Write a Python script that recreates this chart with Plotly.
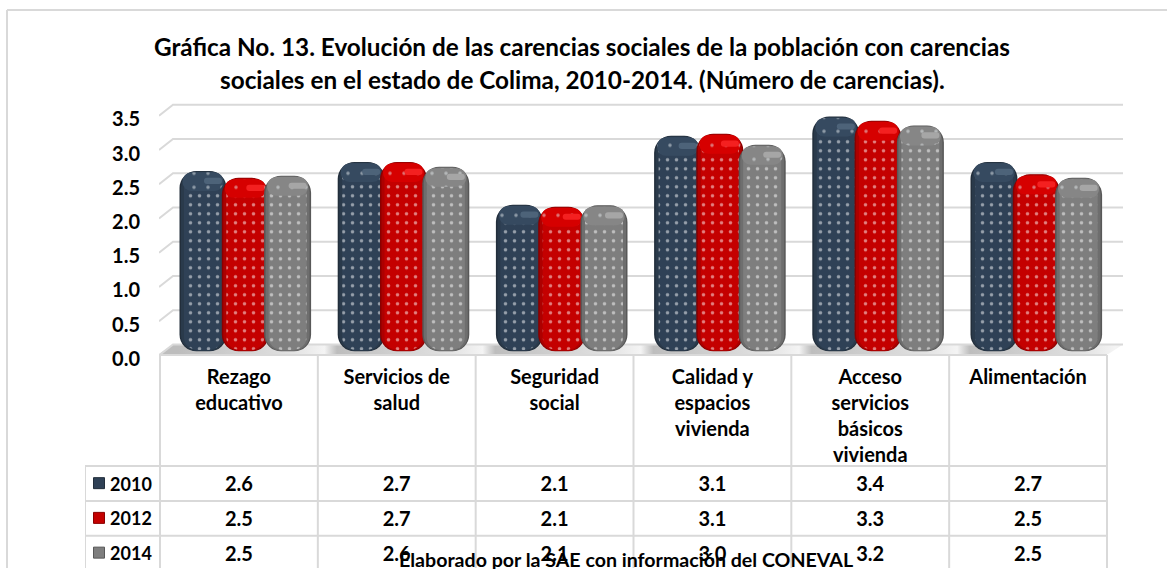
import plotly.graph_objects as go

# ---------- data ----------
categories = ["Rezago<br>educativo", "Servicios de<br>salud", "Seguridad<br>social",
              "Calidad y<br>espacios<br>vivienda", "Acceso<br>servicios<br>básicos<br>vivienda",
              "Alimentación"]
years = ["2010", "2012", "2014"]
values_2010 = [2.62, 2.75, 2.13, 3.13, 3.41, 2.75]
values_2012 = [2.52, 2.75, 2.10, 3.16, 3.35, 2.57]
values_2014 = [2.55, 2.68, 2.12, 3.00, 3.28, 2.52]
labels_2010 = ["2.6", "2.7", "2.1", "3.1", "3.4", "2.7"]
labels_2012 = ["2.5", "2.7", "2.1", "3.1", "3.3", "2.5"]
labels_2014 = ["2.5", "2.6", "2.1", "3.0", "3.2", "2.5"]
axis_ticks = [0, 0.5, 1, 1.5, 2, 2.5, 3, 3.5]
title_lines = ["Gráfica No. 13. Evolución de las carencias sociales de la población con carencias",
               "sociales en el estado de Colima, 2010-2014. (Número de carencias)."]
source_note = "Elaborado por la SAE con información del CONEVAL"

# ---------- geometry / style ----------
W, H = 1167, 569
FONT = "Lato"
GRID = "#d9d9d9"
def px(v): return v / W
def py(v): return (H - v) / H

PX_X = 158.2                          # pixels per category
X0 = 245.3                            # pixel centre of first group
xr = [(159 - X0) / PX_X, (1123 - X0) / PX_X]
BAR_Y = 69.0                          # pixels per unit, bar axis
GRID_Y = 68.57                        # pixels per unit, tick axis
ZERO = 359.5                          # pixel of the tick axis zero (tick labels)
DEPTH = (ZERO - 345) / GRID_Y
xback = (173 - X0) / PX_X

series = [
    (values_2010, ["#222e3b", "#2a3a4b", "#2f4156"], "#364a60", "#4d6379", -1),
    (values_2012, ["#8a0000", "#ad0000", "#c40000"], "#d60000", "#f42020", 0),
    (values_2014, ["#585858", "#6e6e6e", "#7e7e7e"], "#868686", "#a6a6a6", 1),
]
layers = [(47, 0, 17), (44, 0.5, 16), (38, 1.5, 13)]
STEP = 42.3 / PX_X

fig = go.Figure()

# floor
stops = [[0, "#bdbdbd"]]
span = xr[1] - xr[0]
for i in range(6):
    a = (i - 0.42 - xr[0]) / span
    b = (i + 0.3 - xr[0]) / span
    c = (i + 0.5 - xr[0]) / span
    stops += [[max(a, 0.001), "#bdbdbd"], [b, "#e2e2e2"], [c, "#f4f4f4"]]
stops.append([1, "#f0f0f0"])
front = (ZERO - 355) / GRID_Y
fig.add_trace(go.Scatter(
    x=[xr[0], xback, xr[1], (1108 - X0) / PX_X, xr[0]],
    y=[front, DEPTH, DEPTH, front, front],
    mode="lines", line=dict(width=0), fill="toself",
    fillgradient=dict(type="horizontal", colorscale=stops),
    hoverinfo="skip", showlegend=False, xaxis="x", yaxis="y"))

# back wall gridlines with their slanted stubs
gx, gy = [], []
for t in axis_ticks:
    gx += [xr[0], xback, xr[1], None]
    gy += [t + front - 1 / GRID_Y, t + DEPTH, t + DEPTH, None]
fig.add_trace(go.Scatter(x=gx, y=gy, mode="lines", line=dict(color=GRID, width=2),
                         hoverinfo="skip", showlegend=False, xaxis="x", yaxis="y"))

# bars (an explicit base gives rounded corners at both ends)
cats_x = list(range(len(categories)))
for (vals, cols, cap, hi, pos), name in zip(series, years):
    for (wpx, inset, rad), col in zip(layers, cols):
        w = wpx / PX_X
        off = pos * STEP - w / 2
        ins = inset / BAR_Y
        is_inner = wpx == layers[-1][0]
        pat = dict(shape=".", fgcolor="#ffffff", bgcolor=col, size=9, solidity=0.12) if is_inner else None
        fig.add_trace(go.Bar(x=cats_x, y=[v - 2 * ins for v in vals], base=[ins] * 6, width=w, offset=off,
                             marker=dict(color=col, cornerradius=rad, line=dict(width=0), pattern=pat),
                             name=name, showlegend=False, xaxis="x", yaxis="y2", hoverinfo="skip"))
    w = 41 / PX_X
    fig.add_trace(go.Bar(x=cats_x, y=[0.27] * 6, base=[v - 0.29 for v in vals], width=w,
                         offset=pos * STEP - w / 2,
                         marker=dict(color=cap, cornerradius=9, line=dict(width=0),
                                     pattern=dict(shape=".", fgcolor="#e4e9ec", bgcolor=cap, size=14, solidity=0.05)),
                         showlegend=False, xaxis="x", yaxis="y2", hoverinfo="skip"))
    w = 18 / PX_X
    fig.add_trace(go.Bar(x=cats_x, y=[0.09] * 6, base=[v - 0.19 for v in vals], width=w,
                         offset=pos * STEP + 1 / PX_X,
                         marker=dict(color=hi, cornerradius=5, line=dict(width=0)),
                         showlegend=False, xaxis="x", yaxis="y2", hoverinfo="skip"))

# data table drawn on its own axes
ROW = 35.1
R0 = 484.3
TEXT_NUDGE = 3
def ry(p): return (p - R0) / ROW
T_L, T_CAT, T_R = 85, 160, 1107
CW = (T_R - T_CAT) / 6
tx_left = -0.5 - (T_CAT - T_L) / CW
lx, ly = [], []
for i in range(7):
    lx += [i - 0.5, i - 0.5, None]
    ly += [ry(355.5), ry(H + 2), None]
lx += [tx_left, tx_left, None]
ly += [ry(466.7), ry(H + 2), None]
lx += [-0.5, 5.5, None]
ly += [ry(355.5), ry(355.5), None]
for p in (466.7, 502, 536.7):
    lx += [tx_left, 5.5, None]
    ly += [ry(p), ry(p), None]
fig.add_trace(go.Scatter(x=lx, y=ly, mode="lines", line=dict(color=GRID, width=2),
                         hoverinfo="skip", showlegend=False, xaxis="x3", yaxis="y3"))

hfont = dict(family=FONT, size=20, color="#000000", weight=700)
tfont = dict(family=FONT, size=20, color="#000000", weight=700)
yfont = dict(family=FONT, size=18, color="#000000", weight=700)
hx, hy, ht = [], [], []
for i, c in enumerate(categories):
    for k, line in enumerate(c.split("<br>")):
        hx.append(i); hy.append(ry(377 + TEXT_NUDGE + 26 * k)); ht.append(line)
fig.add_trace(go.Scatter(x=hx, y=hy, text=ht, mode="text", textposition="middle center",
                         textfont=hfont, hoverinfo="skip", showlegend=False, xaxis="x3", yaxis="y3"))
for r, (labs, yr, s) in enumerate(zip([labels_2010, labels_2012, labels_2014], years, series)):
    ykey = ry(484 + 34.8 * r)
    ytxt = ry(484 + 34.8 * r + TEXT_NUDGE)
    fig.add_trace(go.Scatter(x=cats_x, y=[ytxt] * 6, text=labs, mode="text", textposition="middle center",
                             textfont=tfont, hoverinfo="skip", showlegend=False, xaxis="x3", yaxis="y3"))
    fig.add_trace(go.Scatter(x=[(131 - T_CAT) / CW - 0.5], y=[ytxt], text=[yr], mode="text",
                             textposition="middle center", textfont=yfont, hoverinfo="skip",
                             showlegend=False, xaxis="x3", yaxis="y3"))
    fig.add_trace(go.Scatter(x=[(99 - T_CAT) / CW - 0.5], y=[ykey], mode="markers",
                             marker=dict(symbol="square", size=11, color=s[1][2], line=dict(color=s[1][0], width=1)),
                             hoverinfo="skip", showlegend=False, xaxis="x3", yaxis="y3"))

annotations = [
    dict(text=title_lines[0], x=px(582), y=py(47), font=dict(family=FONT, size=24.3, color="#000", weight=700)),
    dict(text=title_lines[1], x=px(582), y=py(80), font=dict(family=FONT, size=24.3, color="#000", weight=700)),
    dict(text=source_note, x=px(626), y=py(560), font=dict(family=FONT, size=19.6, color="#000", weight=700)),
]
for a in annotations:
    a.update(xref="paper", yref="paper", xanchor="center", yanchor="middle", showarrow=False)

shapes = [
    dict(type="line", xref="paper", yref="paper", x0=px(7), x1=1, y0=py(10), y1=py(10), line=dict(color=GRID, width=2)),
    dict(type="line", xref="paper", yref="paper", x0=px(7), x1=px(7), y0=py(10), y1=0, line=dict(color=GRID, width=2)),
]

y_bottom, y_top = -0.03, 3.75
fig.update_layout(
    width=W, height=H + 8, autosize=False, margin=dict(l=0, r=0, t=0, b=0),
    paper_bgcolor="#ffffff", plot_bgcolor="rgba(0,0,0,0)", barmode="overlay", showlegend=False,
    annotations=annotations, shapes=shapes,
    xaxis=dict(domain=[px(159), px(1123)], range=xr, visible=False, fixedrange=True),
    yaxis=dict(domain=[py(ZERO - y_bottom * GRID_Y), py(ZERO - y_top * GRID_Y)], range=[y_bottom, y_top],
               anchor="free", position=px(140), tickvals=axis_ticks, tickformat=".1f", ticks="",
               showgrid=False, zeroline=False, showline=False, fixedrange=True,
               tickfont=dict(family=FONT, size=20, color="#000000", weight=700)),
    yaxis2=dict(domain=[py(352), py(352 - 3.5 * BAR_Y)], range=[0, 3.5], anchor="x",
                visible=False, fixedrange=True),
    xaxis3=dict(domain=[px(T_L), px(T_R + 1)], range=[tx_left, 5.5 + 1 / CW], visible=False, fixedrange=True),
    yaxis3=dict(domain=[0, py(354)], range=[ry(H), ry(354)], visible=False, fixedrange=True, anchor="x3"),
)
fig.write_html("out.html", config=dict(displayModeBar=False),
               post_script="document.body.style.margin='0';document.body.style.overflow='hidden';")
